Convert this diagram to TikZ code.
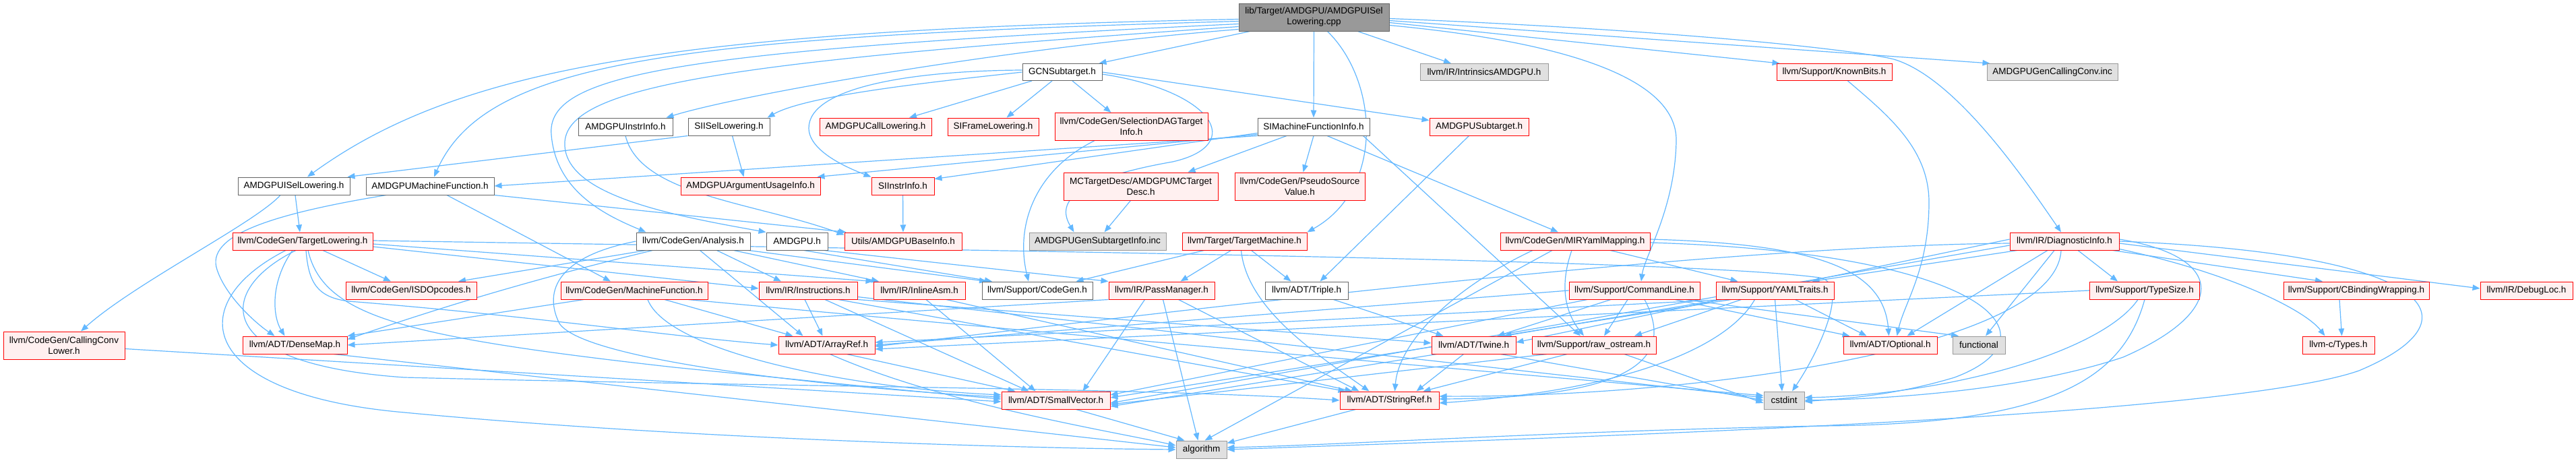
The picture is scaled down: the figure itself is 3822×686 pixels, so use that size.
\documentclass[tikz,border=0pt]{standalone}
\usepackage{fontspec}
\setmainfont{Liberation Sans}
\usetikzlibrary{arrows.meta}
\definecolor{edgec}{RGB}{99,184,255}
\definecolor{rfill}{RGB}{255,240,240}
\definecolor{rdraw}{RGB}{255,0,0}
\definecolor{gfill}{RGB}{224,224,224}
\definecolor{gdraw}{RGB}{153,153,153}
\definecolor{wdraw}{RGB}{102,102,102}
\definecolor{mfill}{RGB}{153,153,153}
\pgfdeclarelayer{bg}
\pgfsetlayers{bg,main}
\newcommand\nd[7]{\node[#2, minimum width=#5pt, minimum height=#6pt] (#1) at (#3,#4) {#7};}
\tikzset{
  box/.style={draw, line width=1pt, inner sep=0pt, align=center, text=black,
    font=\fontsize{13.5pt}{16pt}\selectfont},
  mainst/.style={box, fill=mfill, draw=wdraw},
  wst/.style={box, fill=white, draw=wdraw},
  rst/.style={box, fill=rfill, draw=rdraw},
  gst/.style={box, fill=gfill, draw=gdraw},
  dep/.style={draw=edgec, line width=1.2pt, -{Triangle[length=11pt,width=8.5pt]}}
}
\begin{document}
\begin{tikzpicture}[x=1pt,y=-1pt]
\useasboundingbox (0,0) rectangle (3822,686);
% nodes
\nd{mainf}{mainst}{1949.5}{25.5}{223}{41}{lib/Target/AMDGPU/AMDGPUISel\\Lowering.cpp}
\nd{gcn}{wst}{1576}{107}{118}{25}{GCNSubtarget.h}
\nd{intr}{gst}{2202}{107}{190}{25}{llvm/IR/IntrinsicsAMDGPU.h}
\nd{kb}{rst}{2721.5}{107}{171}{25}{llvm/Support/KnownBits.h}
\nd{gcc}{gst}{3045}{107}{194}{25}{AMDGPUGenCallingConv.inc}
\nd{aii}{wst}{928}{188}{140}{26}{AMDGPUInstrInfo.h}
\nd{siisel}{wst}{1081.5}{188}{121}{26}{SIISelLowering.h}
\nd{acl}{rst}{1299}{188}{166}{26}{AMDGPUCallLowering.h}
\nd{sifl}{rst}{1473.5}{188}{135}{26}{SIFrameLowering.h}
\nd{sdag}{rst}{1678.5}{188}{227}{41}{llvm/CodeGen/SelectionDAGTarget\\Info.h}
\nd{simfi}{wst}{1949}{188}{166}{26}{SIMachineFunctionInfo.h}
\nd{asub}{rst}{2194.5}{188}{147}{26}{AMDGPUSubtarget.h}
\nd{isel}{wst}{436}{276}{166}{26}{AMDGPUISelLowering.h}
\nd{amf}{wst}{638}{276}{190}{26}{AMDGPUMachineFunction.h}
\nd{aui}{rst}{1113.5}{276}{207}{26}{AMDGPUArgumentUsageInfo.h}
\nd{siii}{rst}{1339.5}{276}{93}{26}{SIInstrInfo.h}
\nd{mct}{rst}{1692.5}{276.5}{229}{41}{MCTargetDesc/AMDGPUMCTarget\\Desc.h}
\nd{psv}{rst}{1928.5}{276.5}{193}{41}{llvm/CodeGen/PseudoSource\\Value.h}
\nd{tl}{rst}{449}{358}{208}{26}{llvm/CodeGen/TargetLowering.h}
\nd{ana}{wst}{1028.5}{358}{169}{26}{llvm/CodeGen/Analysis.h}
\nd{amdgpu}{wst}{1182.5}{358}{91}{26}{AMDGPU.h}
\nd{ubi}{rst}{1340}{358}{174}{26}{Utils/AMDGPUBaseInfo.h}
\nd{gsi}{gst}{1628.5}{358}{203}{26}{AMDGPUGenSubtargetInfo.inc}
\nd{tm}{rst}{1846.5}{358}{185}{26}{llvm/Target/TargetMachine.h}
\nd{miry}{rst}{2337}{358}{222}{26}{llvm/CodeGen/MIRYamlMapping.h}
\nd{diag}{rst}{3063}{358}{162}{26}{llvm/IR/DiagnosticInfo.h}
\nd{isd}{rst}{610}{431}{194}{26}{llvm/CodeGen/ISDOpcodes.h}
\nd{mf}{rst}{941}{431}{218}{26}{llvm/CodeGen/MachineFunction.h}
\nd{instr}{rst}{1199}{431}{146}{26}{llvm/IR/Instructions.h}
\nd{iasm}{rst}{1364}{431}{136}{26}{llvm/IR/InlineAsm.h}
\nd{cgen}{wst}{1539}{431}{164}{26}{llvm/Support/CodeGen.h}
\nd{pm}{rst}{1723.5}{431}{157}{26}{llvm/IR/PassManager.h}
\nd{triple}{wst}{1938.5}{431}{123}{26}{llvm/ADT/Triple.h}
\nd{cl}{rst}{2425}{431}{194}{26}{llvm/Support/CommandLine.h}
\nd{yt}{rst}{2633.5}{431}{175}{26}{llvm/Support/YAMLTraits.h}
\nd{ts}{rst}{3182}{431}{163}{26}{llvm/Support/TypeSize.h}
\nd{cbw}{rst}{3496}{431}{216}{26}{llvm/Support/CBindingWrapping.h}
\nd{dloc}{rst}{3748.5}{431}{137}{26}{llvm/IR/DebugLoc.h}
\nd{ccl}{rst}{95}{512.5}{180}{41}{llvm/CodeGen/CallingConv\\Lower.h}
\nd{dm}{rst}{437.5}{512}{155}{26}{llvm/ADT/DenseMap.h}
\nd{ar}{rst}{1226.5}{512}{143}{26}{llvm/ADT/ArrayRef.h}
\nd{tw}{rst}{2186.5}{512}{125}{26}{llvm/ADT/Twine.h}
\nd{ro}{rst}{2365}{512}{184}{26}{llvm/Support/raw\_ostream.h}
\nd{opt}{rst}{2804.5}{512}{139}{26}{llvm/ADT/Optional.h}
\nd{func}{gst}{2936}{512}{78}{26}{functional}
\nd{ctypes}{rst}{3469.5}{512}{107}{26}{llvm-c/Types.h}
\nd{sv}{rst}{1566.5}{594}{161}{26}{llvm/ADT/SmallVector.h}
\nd{sr}{rst}{2061.5}{594}{147}{26}{llvm/ADT/StringRef.h}
\nd{cstd}{gst}{2647}{594}{60}{26}{cstdint}
\nd{alg}{gst}{1782.5}{667}{75}{26}{algorithm}
\begin{pgfonlayer}{bg}
\fill[white] (0,0) rectangle (3822,686);
% main file
\draw[dep] ([yshift=-3pt]mainf.west) .. controls (1000,45) and (680,100) .. ([xshift=20pt]isel.north);
\draw[dep] ([yshift=-6pt]mainf.west) .. controls (1000,55) and (720,90) .. ([xshift=6pt]amf.north);
\draw[dep] ([yshift=-10pt]mainf.west) .. controls (1000,75) and (810,110) .. (818,200) .. controls (825,285) and (900,320) .. ([xshift=-70pt]ana.north);
\draw[dep] ([yshift=-14pt]mainf.west) .. controls (1100,90) and (845,125) .. (838,210) .. controls (833,290) and (1000,320) .. (amdgpu.north west);
\draw[dep] ([yshift=-18pt]mainf.west) .. controls (1500,70) and (1100,140) .. ([xshift=-10pt]aii.north east);
\draw[dep] ([xshift=-95pt]mainf.south) -- ([xshift=-5pt]gcn.north east);
\draw[dep] (mainf.south) -- (simfi.north);
\draw[dep] ([xshift=20pt]mainf.south) .. controls (2045,120) and (2055,280) .. (tm.north east);
\draw[dep] ([xshift=65pt]mainf.south) -- ([xshift=-49pt]intr.north);
\draw[dep] ([yshift=-8pt]mainf.east) -- ([xshift=5pt]kb.north west);
\draw[dep] ([yshift=-5pt]mainf.east) -- ([xshift=5pt]gcc.north west);
\draw[dep] ([yshift=-12pt]mainf.east) .. controls (2300,60) and (2490,110) .. (2487,210) .. controls (2485,310) and (2440,380) .. ([xshift=10pt]cl.north);
\draw[dep] ([yshift=-2pt]mainf.east) .. controls (2500,45) and (2760,75) .. (2810,88) .. controls (2900,115) and (3000,260) .. ([xshift=-5pt]diag.north);
% GCNSubtarget
\draw[dep] (gcn.west) .. controls (1400,120) and (1200,140) .. ([xshift=-4pt]siisel.north east);
\draw[dep] ([xshift=-45pt]gcn.south) -- ([xshift=50pt]acl.north);
\draw[dep] ([xshift=-15pt]gcn.south) -- ([xshift=20pt]sifl.north);
\draw[dep] ([xshift=15pt]gcn.south) -- ([xshift=-30pt]sdag.north);
\draw[dep] ([yshift=3pt]gcn.west) .. controls (1350,105) and (1200,130) .. (1200,190) .. controls (1200,225) and (1260,250) .. (siii.north west);
\draw[dep] (gcn.east) -- ([yshift=-4pt]asub.north west);
\draw[dep] ([yshift=-3pt]gcn.east) .. controls (1800,135) and (1850,215) .. (1740,240) .. controls (1580,268) and (1570,305) .. ([xshift=-35pt]gsi.north);
\draw[dep] ([xshift=-55pt]sdag.south) .. controls (1540,250) and (1505,330) .. ([xshift=-13pt]cgen.north);
% SIMachineFunctionInfo
\draw[dep] (simfi.south west) -- (amf.east);
\draw[dep] ([yshift=2pt]simfi.south west) -- ([xshift=-5pt]aui.north east);
\draw[dep] ([yshift=4pt]simfi.south west) -- ([yshift=-3pt]siii.north east);
\draw[dep] ([xshift=-40pt]simfi.south) -- ([xshift=70pt]mct.north);
\draw[dep] (simfi.south) -- ([xshift=5pt]psv.north);
\draw[dep] ([xshift=20pt]simfi.south) -- ([xshift=-25pt]miry.north);
\draw[dep] ([xshift=-10pt]simfi.south east) -- ([xshift=-20pt]ro.north);
\draw[dep] ([xshift=-15pt]asub.south) -- ([xshift=20pt]triple.north);
% ISelLowering, MachineFunction, InstrInfo
\draw[dep] ([xshift=-20pt]isel.south) .. controls (380,330) and (200,420) .. ([xshift=25pt]ccl.north);
\draw[dep] ([xshift=2pt]isel.south) -- ([xshift=-4pt]tl.north);
\draw[dep] ([xshift=-65pt]amf.south) .. controls (400,318) and (305,350) .. (322,400) .. controls (335,440) and (380,480) .. ([xshift=-30pt]dm.north);
\draw[dep] ([xshift=25pt]amf.south) -- ([xshift=-35pt]mf.north);
\draw[dep] (amf.south east) -- ([xshift=3pt]ubi.north west);
\draw[dep] (aii.south) .. controls (950,290) and (1120,300) .. ([yshift=-4pt]ubi.north west);
\draw[dep] (siisel.south west) -- ([xshift=-4pt]isel.north east);
\draw[dep] ([xshift=5pt]siisel.south) -- ([xshift=-10pt]aui.north);
\draw[dep] (siii) -- (ubi);
\draw[dep] ([xshift=-15pt]mct.south) -- ([xshift=10pt]gsi.north);
% TargetLowering
\draw[dep] ([xshift=30pt]tl.south) -- ([xshift=-30pt]isd.north);
\draw[dep] ([xshift=-15pt]tl.south) .. controls (400,420) and (405,470) .. ([xshift=-15pt]dm.north);
\draw[dep] ([yshift=-8pt]tl.east) -- ([yshift=3pt]instr.west);
\draw[dep] ([yshift=-4pt]tl.east) -- (iasm.north west);
\draw[dep] ([yshift=1pt]tl.east) .. controls (1500,372) and (2500,385) .. (2700,412) .. controls (2745,420) and (2700,520) .. ([xshift=12pt]cstd.north);
\draw[dep] ([xshift=5pt]tl.south) .. controls (458,420) and (470,445) .. (530,448) .. controls (800,470) and (1000,500) .. (ar.west);
\draw[dep] ([xshift=8pt]tl.south) .. controls (480,470) and (600,500) .. (1000,545) .. controls (1200,565) and (1400,585) .. ([yshift=2pt]sv.west);
\draw[dep] ([xshift=-10pt]tl.south) .. controls (320,430) and (310,540) .. (600,560) .. controls (1200,575) and (1700,575) .. (sr.west);
\draw[dep] ([xshift=-25pt]tl.south) .. controls (270,450) and (290,585) .. (600,612) .. controls (1000,650) and (1500,665) .. (alg.west);
\draw[dep] ([yshift=-5pt]ccl.east) -- ([yshift=-2pt]sv.west);
\draw[dep] ([xshift=-20pt]dm.south east) -- ([yshift=3pt]alg.west);
% Analysis
\draw[dep] ([xshift=-70pt]ana.south) -- ([xshift=70pt]isd.north);
\draw[dep] ([xshift=-60pt]ana.south) .. controls (850,400) and (700,440) .. ([yshift=-5pt]dm.north east);
\draw[dep] (ana.west) .. controls (830,380) and (805,430) .. (830,480) .. controls (870,540) and (1300,580) .. ([yshift=5pt]sv.west);
\draw[dep] ([xshift=10pt]ana.south) -- ([xshift=-35pt]ar.north);
\draw[dep] ([xshift=35pt]ana.south) -- ([xshift=-40pt]instr.north);
\draw[dep] ([xshift=60pt]ana.south) -- ([xshift=-60pt]iasm.north);
\draw[dep] ([xshift=-3pt]ana.south east) -- ([xshift=-75pt]cgen.north);
\draw[dep] ([xshift=10pt]amdgpu.south) -- ([xshift=-67pt]cgen.north);
\draw[dep] ([xshift=40pt]amdgpu.south) -- (pm.north west);
% MachineFunction
\draw[dep] ([xshift=-75pt]mf.south) -- (dm.north east);
\draw[dep] ([xshift=45pt]mf.south) -- ([xshift=-50pt]ar.north);
\draw[dep] ([xshift=20pt]mf.south) .. controls (990,520) and (1250,575) .. ([yshift=8pt]sv.west);
\draw[dep] ([xshift=80pt]mf.south) .. controls (1400,480) and (2300,560) .. ([yshift=7pt]cstd.west);
% Instructions, InlineAsm
\draw[dep] ([xshift=-5pt]instr.south) -- ([xshift=-6pt]ar.north);
\draw[dep] ([xshift=25pt]instr.south) -- ([xshift=-40pt]sv.north);
\draw[dep] ([xshift=45pt]instr.south) -- ([xshift=-65pt]sr.north);
\draw[dep] (instr.south east) -- ([yshift=3pt]tw.west);
\draw[dep] ([yshift=4pt]instr.south east) -- ([yshift=4pt]cstd.west);
\draw[dep] ([xshift=10pt]iasm.south) -- ([xshift=-30pt]sv.north);
\draw[dep] ([xshift=40pt]iasm.south) -- ([xshift=-55pt]sr.north);
% PassManager, Triple, TargetMachine
\draw[dep] (pm.south west) -- (dm.east);
\draw[dep] ([xshift=-25pt]pm.south) -- ([xshift=40pt]sv.north);
\draw[dep] ([xshift=2pt]pm.south) -- ([xshift=-5pt]alg.north);
\draw[dep] ([xshift=25pt]pm.south) -- ([xshift=-45pt]sr.north);
\draw[dep] ([xshift=40pt]triple.south) -- ([xshift=-45pt]tw.north);
\draw[dep] ([xshift=-60pt]tm.south) -- ([xshift=-25pt]cgen.north east);
\draw[dep] ([xshift=-20pt]tm.south) -- ([xshift=28pt]pm.north);
\draw[dep] ([xshift=10pt]tm.south) -- ([xshift=-23pt]triple.north);
\draw[dep] ([xshift=-5pt]tm.south) .. controls (1850,460) and (1960,530) .. ([xshift=-30pt]sr.north);
% MIRYamlMapping
\draw[dep] ([xshift=-34pt]miry.south) -- ([xshift=5pt]alg.north);
\draw[dep] ([xshift=-63pt]miry.south) .. controls (2150,430) and (2075,510) .. ([xshift=8pt]sr.north);
\draw[dep] ([xshift=-5pt]miry.south) .. controls (2315,420) and (2320,460) .. ([xshift=-15pt]ro.north);
\draw[dep] ([xshift=52pt]miry.south) -- ([xshift=-55pt]yt.north);
\draw[dep] ([yshift=3pt]miry.east) .. controls (2700,362) and (2795,400) .. ([xshift=-2pt]opt.north);
\draw[dep] ([yshift=-2pt]miry.east) .. controls (2950,375) and (3060,500) .. (2900,560) .. controls (2800,590) and (2720,592) .. ([yshift=-2pt]cstd.east);
% CommandLine
\draw[dep] (cl.west) -- (ar.east);
\draw[dep] ([xshift=-70pt]cl.south) -- ([yshift=8pt]sv.east);
\draw[dep] ([xshift=15pt]cl.south) .. controls (2480,520) and (2450,590) .. ([yshift=2pt]sr.east);
\draw[dep] ([xshift=-35pt]cl.south) -- ([xshift=35pt]tw.north);
\draw[dep] ([xshift=-10pt]cl.south) -- ([xshift=15pt]ro.north);
\draw[dep] ([xshift=60pt]cl.south) -- ([xshift=-60pt]opt.north);
\draw[dep] ([xshift=75pt]cl.south) -- ([xshift=-30pt]func.north);
% YAMLTraits
\draw[dep] ([xshift=-75pt]yt.south) -- ([yshift=4pt]ar.east);
\draw[dep] ([xshift=-65pt]yt.south) -- ([yshift=4pt]sv.east);
\draw[dep] ([xshift=-30pt]yt.south) .. controls (2560,520) and (2400,580) .. ([yshift=-4pt]sr.east);
\draw[dep] ([xshift=-80pt]yt.south) -- ([xshift=45pt]tw.north);
\draw[dep] ([xshift=-50pt]yt.south) -- ([xshift=60pt]ro.north);
\draw[dep] ([xshift=30pt]yt.south) -- ([xshift=-35pt]opt.north);
\draw[dep] (yt.south) -- ([xshift=-3pt]cstd.north);
\draw[dep] ([xshift=20pt]kb.south) .. controls (2800,170) and (2862,220) .. (2862,300) .. controls (2862,400) and (2825,450) .. ([xshift=10pt]opt.north);
% DiagnosticInfo
\draw[dep] ([yshift=2pt]diag.south east) .. controls (3310,405) and (3420,460) .. ([xshift=-20pt]ctypes.north);
\draw[dep] ([xshift=-10pt]diag.south east) -- ([xshift=-50pt]cbw.north);
\draw[dep] ([yshift=-3pt]diag.east) -- ([yshift=3pt]dloc.west);
\draw[dep] ([xshift=20pt]diag.south) -- ([xshift=-40pt]ts.north);
\draw[dep] ([xshift=-15pt]diag.south) -- ([xshift=10pt]func.north);
\draw[dep] ([xshift=-25pt]diag.south) -- ([xshift=25pt]opt.north);
\draw[dep] ([xshift=-70pt]diag.south) -- ([xshift=55pt]yt.north);
\draw[dep] ([yshift=-3pt]diag.west) .. controls (2500,365) and (1600,480) .. ([yshift=-2pt]ar.east);
\draw[dep] ([yshift=-6pt]diag.west) -- ([yshift=-4pt]sv.east);
\draw[dep] ([xshift=-5pt]diag.south) .. controls (3050,520) and (2500,590) .. ([yshift=6pt]sr.east);
\draw[dep] ([yshift=3pt]diag.west) -- ([yshift=4pt]tw.east);
\draw[dep] (diag.east) .. controls (3600,375) and (3690,470) .. (3500,550) .. controls (3300,620) and (2300,650) .. (alg.east);
\draw[dep] ([yshift=3pt]diag.east) .. controls (3300,380) and (3310,460) .. (3150,530) .. controls (3000,580) and (2800,592) .. (cstd.east);
% TypeSize, CBindingWrapping
\draw[dep] (ts.west) -- ([yshift=-6pt]ar.east);
\draw[dep] ([xshift=-10pt]ts.south) .. controls (3120,520) and (2900,585) .. ([yshift=4pt]cstd.east);
\draw[dep] (ts.south) .. controls (3150,560) and (3050,630) .. (2700,632) .. controls (2300,640) and (2000,660) .. ([yshift=3pt]alg.east);
\draw[dep] ([xshift=-25pt]cbw.south) -- ([xshift=5pt]ctypes.north);
% raw_ostream, Twine, ArrayRef, SmallVector, StringRef
\draw[dep] ([xshift=-70pt]ro.south) -- ([yshift=-6pt]sv.east);
\draw[dep] ([xshift=-40pt]ro.south) -- ([xshift=50pt]sr.north);
\draw[dep] ([xshift=45pt]ro.south) -- ([yshift=-4pt]cstd.west);
\draw[dep] ([xshift=-55pt]tw.south) -- ([yshift=-9pt]sv.east);
\draw[dep] ([xshift=-15pt]tw.south) -- ([xshift=40pt]sr.north);
\draw[dep] ([xshift=40pt]tw.south) -- ([yshift=0pt]cstd.west);
\draw[dep] ([xshift=30pt]ar.south) -- ([xshift=-60pt]sv.north);
\draw[dep] ([xshift=5pt]ar.south) .. controls (1400,600) and (1650,640) .. ([yshift=6pt]alg.west);
\draw[dep] ([xshift=30pt]sv.south) -- ([xshift=-25pt]alg.north);
\draw[dep] ([xshift=-50pt]sr.south) -- ([yshift=-4pt]alg.north east);
\end{pgfonlayer}
\end{tikzpicture}
\end{document}
